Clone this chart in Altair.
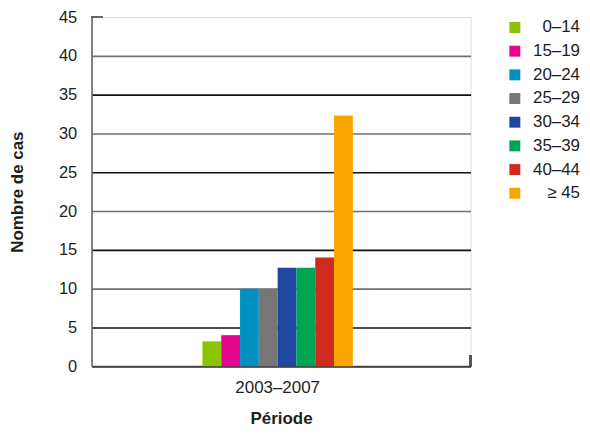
import altair as alt
import pandas as pd

periods = ["2003–2007"] * 8
groups = ["0–14", "15–19", "20–24", "25–29", "30–34", "35–39", "40–44", "≥ 45"]
values = [3.2, 4.0, 10.0, 10.0, 12.7, 12.7, 14.0, 32.3]
colors = ["#8dc300", "#e2068c", "#0090c0", "#767676", "#1f46a0", "#00a454", "#d02a1e", "#f9a500"]
y_ticks = [0, 5, 10, 15, 20, 25, 30, 35, 40, 45]

df = pd.DataFrame({"period": periods, "group": groups, "value": values})

FONT = "Liberation Sans"
TXT = "#1e1e1e"

bars = alt.Chart(df).mark_bar().encode(
    x=alt.X("period:N", title="Période",
            scale=alt.Scale(paddingInner=0, paddingOuter=0.76, align=0.485),
            axis=alt.Axis(labelAngle=0, ticks=False, labelPadding=13, titlePadding=16,
                          labelFontSize=17, titleFontSize=17, titleFontWeight="bold",
                          domainColor="#444", domainWidth=2, labelColor=TXT, titleColor=TXT)),
    xOffset=alt.XOffset("group:N", sort=groups, scale=alt.Scale(paddingInner=0, paddingOuter=0)),
    y=alt.Y("value:Q", title="Nombre de cas",
            scale=alt.Scale(domain=[0, 45], nice=False),
            axis=alt.Axis(values=y_ticks, tickCount=20, ticks=False, labelPadding=15,
                          grid=True,
                          gridColor={"condition": {"test": "datum.value % 10 == 0", "value": "#707070"},
                                     "value": "#111111"},
                          gridOpacity={"condition": {"test": "datum.value >= 45", "value": 0},
                                       "value": 1},
                          gridWidth=1.6,
                          labelFontSize=16.5, titleFontSize=17, titleFontWeight="bold", titlePadding=32,
                          domainColor="#666", domainWidth=1.6, labelColor=TXT, titleColor=TXT)),
    color=alt.Color("group:N", sort=groups, scale=alt.Scale(domain=groups, range=colors),
                    legend=alt.Legend(title=None, symbolType="square", symbolSize=121,
                                      symbolStrokeWidth=0, labelFontSize=17, labelColor=TXT,
                                      labelAlign="right", labelOffset=57, rowPadding=5.8,
                                      orient="right", offset=34, padding=2, labelLimit=90)),
)

top_stub = alt.Chart(df).mark_rule(color="#666", strokeWidth=1.6).encode(
    y=alt.datum(45), x=alt.value(0), x2=alt.value(11)
)
right_stub = alt.Chart(df).mark_rule(color="#555", strokeWidth=2).encode(
    x=alt.value(381), y=alt.datum(0), y2=alt.datum(1.4)
)

chart = alt.layer(bars, top_stub, right_stub).properties(
    width=381, height=351,
    padding={"left": 0, "top": 0, "right": 0, "bottom": 0},
).configure_view(
    fill="#e8e9e8", stroke=None
).configure(font=FONT)

chart.save("out.html", embed_options={"renderer": "svg", "actions": False})
